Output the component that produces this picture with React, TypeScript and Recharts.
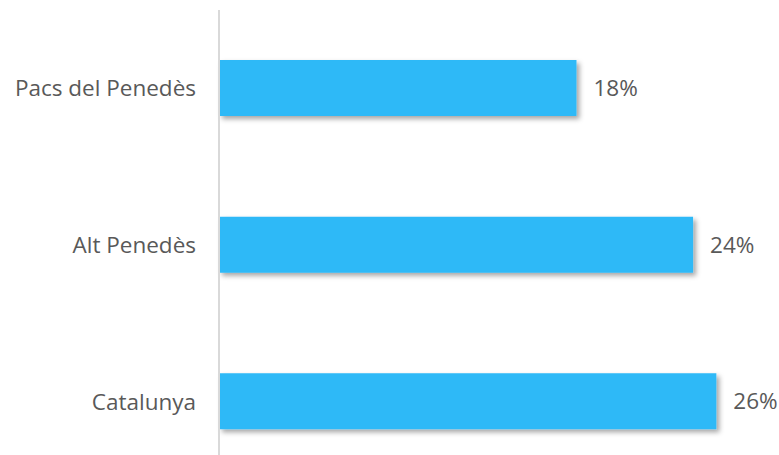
import { BarChart, Bar, XAxis, YAxis, LabelList } from "recharts"

const regions = ["Pacs del Penedès", "Alt Penedès", "Catalunya"]
const shares = [0.184, 0.244, 0.256]

const data = regions.map((name, i) => ({ name, value: shares[i] }))

const textColor = "#595959"
const barColor = "#2FB9F7"

export default function App() {
  return (
    <div
      style={{
        position: "absolute",
        left: 0,
        top: 0,
        width: 779,
        height: 455,
        overflow: "hidden",
        background: "#fff",
        fontFamily: "'Open Sans', sans-serif",
      }}
    >
      <BarChart
        width={779}
        height={490}
        data={data}
        layout="vertical"
        margin={{ top: 10, right: 16, left: 0, bottom: 10 }}
        barSize={56}
      >
        <defs>
          <filter id="barShadow" x="-10%" y="-20%" width="130%" height="160%">
            <feDropShadow dx="3" dy="3" stdDeviation="2.5" floodColor="#000" floodOpacity="0.35" />
          </filter>
        </defs>
        <XAxis type="number" domain={[0, 0.28]} hide />
        <YAxis
          type="category"
          dataKey="name"
          width={219}
          tickLine={false}
          tickSize={0}
          tickMargin={23}
          axisLine={{ stroke: "#d9d9d9", strokeWidth: 2 }}
          tick={{ fill: textColor, fontSize: 22.5 }}
        />
        <Bar dataKey="value" fill={barColor} isAnimationActive={false} filter="url(#barShadow)">
          <LabelList
            dataKey="value"
            position="right"
            offset={17}
            formatter={(v: any) => `${Math.round(Number(v) * 100)}%`}
            style={{ fill: textColor, fontSize: 22.5 }}
          />
        </Bar>
      </BarChart>
    </div>
  )
}
